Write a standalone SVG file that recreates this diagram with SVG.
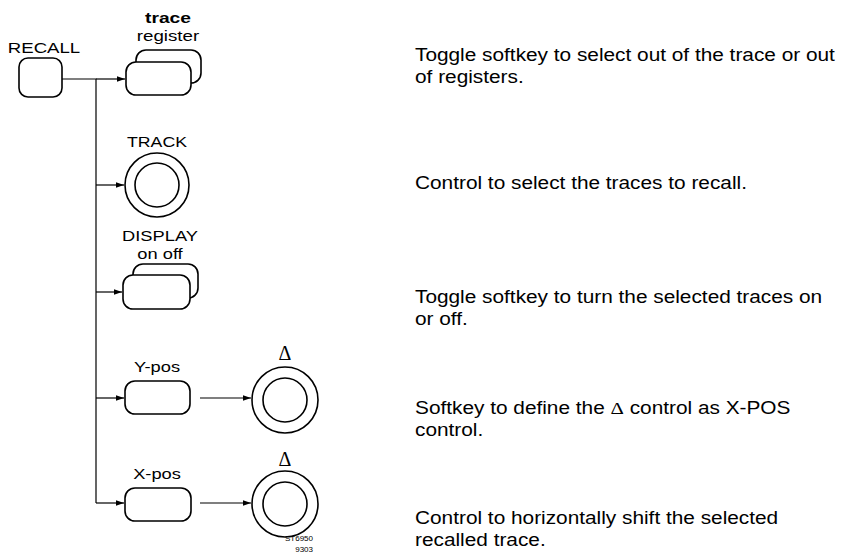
<svg xmlns="http://www.w3.org/2000/svg" width="849" height="556" viewBox="0 0 849 556">
<style>
.k{fill:#fff;stroke:#000;stroke-width:1.6}
.c{fill:#fff;stroke:#000;stroke-width:1.6}
.l{fill:none;stroke:#000;stroke-width:1.2}
.t{font-family:"Liberation Sans",Arial,sans-serif;font-size:15.5px;fill:#000;text-anchor:middle}
.d{font-family:"Liberation Sans",Arial,sans-serif;font-size:17.5px;fill:#000}
.g{font-family:"Liberation Serif","Times New Roman",serif;font-size:20px;fill:#000;text-anchor:middle}
.gs{font-family:"Liberation Serif","Times New Roman",serif}
.s{font-family:"Liberation Sans",Arial,sans-serif;font-size:8px;fill:#000;text-anchor:end}
</style>
<defs>
<marker id="a" viewBox="0 0 10 10" refX="10" refY="5" markerWidth="10" markerHeight="8" markerUnits="userSpaceOnUse" orient="auto">
<path d="M0,1.5 L10,5 L0,8.5 Z" fill="#000"/>
</marker>
</defs>
<g id="connectors">
<path class="l" d="M62,79 H96 V503"/>
<path class="l" d="M96,79 H125" marker-end="url(#a)"/>
<path class="l" d="M96,185 H124" marker-end="url(#a)"/>
<path class="l" d="M96,292 H122" marker-end="url(#a)"/>
<path class="l" d="M96,398 H124" marker-end="url(#a)"/>
<path class="l" d="M96,503 H124" marker-end="url(#a)"/>
<path class="l" d="M200,398 H251" marker-end="url(#a)"/>
<path class="l" d="M200,503 H251" marker-end="url(#a)"/>
</g>
<g id="recall">
<text class="t" transform="translate(44,53) scale(1.2,1)">RECALL</text>
<rect class="k" x="19" y="58" width="43" height="39" rx="9"/>
</g>
<g id="trace-register">
<text class="t" transform="translate(168,23) scale(1.24,1)" font-weight="bold">trace</text>
<text class="t" transform="translate(168,41) scale(1.21,1)">register</text>
<rect class="k" x="136" y="50" width="65" height="33" rx="10"/>
<rect class="k" x="126" y="62" width="65" height="33" rx="10"/>
</g>
<g id="track">
<text class="t" transform="translate(157,147) scale(1.14,1)">TRACK</text>
<circle class="c" cx="157" cy="185" r="32"/>
<circle class="c" cx="157" cy="185" r="22"/>
</g>
<g id="display">
<text class="t" transform="translate(160,241) scale(1.18,1)">DISPLAY</text>
<text class="t" transform="translate(160,259) scale(1.18,1)">on off</text>
<rect class="k" x="133" y="264" width="65" height="34" rx="10"/>
<rect class="k" x="123" y="275" width="67" height="34" rx="10"/>
</g>
<g id="ypos">
<text class="t" transform="translate(157,372) scale(1.18,1)">Y-pos</text>
<rect class="k" x="125" y="381" width="65" height="33" rx="10"/>
</g>
<g id="ypos-delta">
<text class="g" x="285" y="360">Δ</text>
<circle class="c" cx="285" cy="400" r="33"/>
<circle class="c" cx="285" cy="400" r="22"/>
</g>
<g id="xpos">
<text class="t" transform="translate(157,479) scale(1.18,1)">X-pos</text>
<rect class="k" x="125" y="488" width="66" height="33" rx="10"/>
</g>
<g id="xpos-delta">
<text class="g" x="285" y="466">Δ</text>
<circle class="c" cx="285" cy="504" r="33"/>
<circle class="c" cx="285" cy="504" r="22"/>
<text class="s" x="313" y="541">ST6950</text>
<text class="s" x="313" y="552">9303</text>
</g>
<g id="descriptions">
<text class="d" transform="translate(415,61) scale(1.19,1)">Toggle softkey to select out of the trace or out</text>
<text class="d" transform="translate(415,83) scale(1.19,1)">of registers.</text>
<text class="d" transform="translate(415,189) scale(1.19,1)">Control to select the traces to recall.</text>
<text class="d" transform="translate(415,303) scale(1.19,1)">Toggle softkey to turn the selected traces on</text>
<text class="d" transform="translate(415,325) scale(1.19,1)">or off.</text>
<text class="d" transform="translate(415,414) scale(1.19,1)">Softkey to define the <tspan class="gs">Δ</tspan> control as X-POS</text>
<text class="d" transform="translate(415,436) scale(1.19,1)">control.</text>
<text class="d" transform="translate(415,524) scale(1.19,1)">Control to horizontally shift the selected</text>
<text class="d" transform="translate(415,546) scale(1.19,1)">recalled trace.</text>
</g>
</svg>
